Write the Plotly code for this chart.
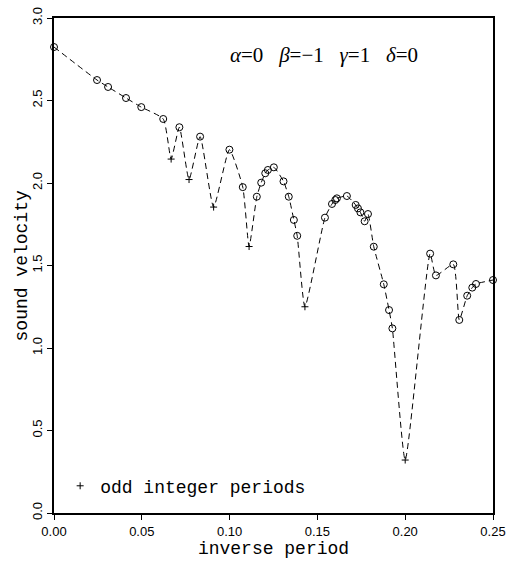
import plotly.graph_objects as go

# sampled points (open circles)
circle_x = [0.0, 0.0245, 0.0308, 0.041, 0.0497, 0.0622, 0.0714, 0.0832, 0.0999,
            0.1075, 0.1155, 0.1180, 0.1203, 0.1218, 0.1252, 0.1307, 0.1337, 0.1366,
            0.1385, 0.1543, 0.1583, 0.1602, 0.1611, 0.1668, 0.1718, 0.1731, 0.1745,
            0.1769, 0.1788, 0.1821, 0.1878, 0.1908, 0.1927, 0.2142, 0.2175, 0.2274,
            0.2308, 0.2353, 0.2382, 0.2403, 0.2500]
circle_y = [2.824, 2.624, 2.582, 2.515, 2.460, 2.388, 2.338, 2.281, 2.202,
            1.975, 1.917, 2.002, 2.059, 2.079, 2.095, 2.010, 1.917, 1.776,
            1.680, 1.790, 1.873, 1.897, 1.907, 1.921, 1.867, 1.846, 1.822,
            1.768, 1.812, 1.614, 1.386, 1.230, 1.119, 1.572, 1.440, 1.507,
            1.170, 1.317, 1.366, 1.388, 1.412]

# odd integer periods (plus markers): 1/15, 1/13, 1/11, 1/9, 1/7, 1/5
odd_x = [0.0667, 0.0769, 0.0909, 0.1111, 0.1429, 0.2000]
odd_y = [2.145, 2.021, 1.854, 1.615, 1.250, 0.321]

x_ticks = [0.00, 0.05, 0.10, 0.15, 0.20, 0.25]
y_ticks = [0.0, 0.5, 1.0, 1.5, 2.0, 2.5, 3.0]

# combined curve
pts = sorted(list(zip(circle_x, circle_y)) + list(zip(odd_x, odd_y)))
line_x = [p[0] for p in pts]
line_y = [p[1] for p in pts]

MONO = "Liberation Mono, Courier New, monospace"
SANS = "Liberation Sans, Arial, sans-serif"
SERIF = "Liberation Serif, Times New Roman, serif"

fig = go.Figure()
fig.add_trace(go.Scatter(x=line_x, y=line_y, mode="lines",
                         line=dict(color="black", width=1, dash="6px,4px",
                                   shape="spline", smoothing=0.5),
                         showlegend=False, hoverinfo="skip"))
fig.add_trace(go.Scatter(x=circle_x, y=circle_y, mode="markers",
                         marker=dict(symbol="circle-open", size=7, color="black",
                                     line=dict(width=1, color="black")),
                         showlegend=False, cliponaxis=False))
fig.add_trace(go.Scatter(x=odd_x, y=odd_y, mode="markers",
                         name="odd integer periods",
                         marker=dict(symbol="cross-thin-open", size=5, color="black",
                                     line=dict(width=1, color="black")),
                         showlegend=True, cliponaxis=False))

fig.add_annotation(x=0.1535, y=2.776, xref="x", yref="y",
                   text="<i>α</i>=0&nbsp;&nbsp;&nbsp;<i>β</i>=−1&nbsp;&nbsp;&nbsp;<i>γ</i>=1&nbsp;&nbsp;&nbsp;<i>δ</i>=0",
                   showarrow=False, font=dict(family=SERIF, size=21, color="black"))

# y-axis title as annotation (placed closer to the axis than standoff allows)
fig.add_annotation(x=-0.073, y=0.5, xref="paper", yref="paper",
                   text="sound velocity", textangle=-90, showarrow=False,
                   xanchor="center", yanchor="middle",
                   font=dict(family=MONO, size=18, color="black"))

axis_common = dict(showline=True, linewidth=2, linecolor="black", mirror=True,
                   ticks="outside", ticklen=5, tickwidth=1, tickcolor="black",
                   showgrid=False, zeroline=False, automargin=False,
                   tickfont=dict(family=SANS, size=13, color="black"))

fig.update_layout(
    width=510, height=565,
    margin=dict(l=54, r=17, t=18, b=52),
    paper_bgcolor="white", plot_bgcolor="white",
    xaxis=dict(range=[0, 0.25], tickvals=x_ticks, tickformat=".2f",
               title=dict(text="inverse period", font=dict(family=MONO, size=18, color="black"),
                          standoff=4),
               **axis_common),
    yaxis=dict(range=[0, 3.0], tickvals=y_ticks, tickformat=".1f", tickangle=-90,
               **axis_common),
    legend=dict(x=0.014, y=0.017, xanchor="left", yanchor="bottom",
                bgcolor="rgba(0,0,0,0)", itemwidth=30,
                font=dict(family=MONO, size=18, color="black")),
)

fig.write_html("out.html", config={"displayModeBar": False},
               post_script="document.body.style.margin='0';document.body.style.padding='0';")
